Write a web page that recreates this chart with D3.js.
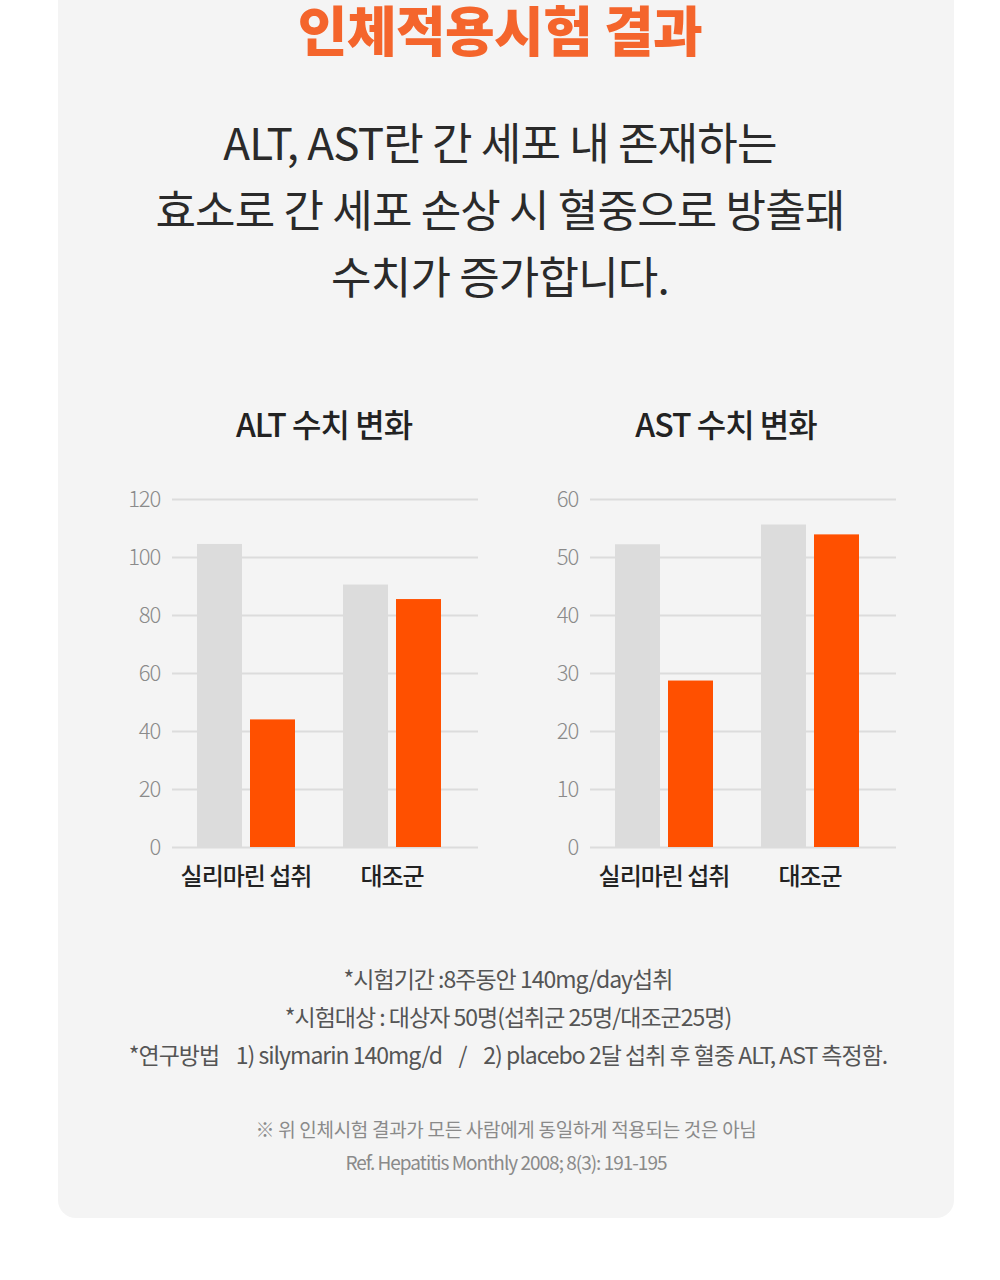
<!DOCTYPE html>
<html><head><meta charset="utf-8">
<script src="https://cdn.jsdelivr.net/npm/d3@7"></script>
<style>
html,body{margin:0;padding:0;background:#fff;}
svg{display:block;}
text{font-family:"Noto Sans CJK KR","Noto Sans",sans-serif;}
</style></head>
<body>
<div id="chart"></div>
<script>
const categories = ["실리마린 섭취", "대조군"];
const series = ["before", "after"];
const altBefore = [104.5, 90.5];
const altAfter = [44, 85.5];
const astBefore = [52.2, 55.6];
const astAfter = [28.7, 53.9];
const altTicks = [0, 20, 40, 60, 80, 100, 120];
const astTicks = [0, 10, 20, 30, 40, 50, 60];
const titleText = "인체적용시험 결과";
const subtitleLines = ["ALT, AST란 간 세포 내 존재하는", "효소로 간 세포 손상 시 혈중으로 방출돼", "수치가 증가합니다."];
const chartTitles = ["ALT 수치 변화", "AST 수치 변화"];
const noteLines = ["*시험기간 :8주동안 140mg/day섭취", "*시험대상 : 대상자 50명(섭취군 25명/대조군25명)", "*연구방법    1) silymarin 140mg/d    /    2) placebo 2달 섭취 후 혈중 ALT, AST 측정함."];
const smallLines = ["※ 위 인체시험 결과가 모든 사람에게 동일하게 적용되는 것은 아님", "Ref. Hepatitis Monthly 2008; 8(3): 191-195"];

const W = 1000, H = 1280;
const svg = d3.select("#chart").append("svg").attr("width", W).attr("height", H);

// panel
svg.append("rect").attr("x", 58).attr("y", -40).attr("width", 896).attr("height", 1258)
  .attr("rx", 18).attr("fill", "#f4f4f4");

// title
svg.append("text").attr("x", 500).attr("y", 52).attr("text-anchor", "middle")
  .attr("font-size", 54).attr("font-weight", 900).attr("fill", "#f4652c")
  .attr("letter-spacing", -0.6).text(titleText);

// subtitle
subtitleLines.forEach((t, i) => {
  svg.append("text").attr("x", 500).attr("y", 160 + i * 67).attr("text-anchor", "middle")
    .attr("font-size", 44).attr("font-weight", 400).attr("fill", "#2a2a2a")
    .attr("letter-spacing", -0.8).text(t);
});

function drawChart(cfg) {
  const g = svg.append("g");
  const y = d3.scaleLinear().domain([0, cfg.max]).range([847, 499]);
  const x0 = d3.scaleBand().domain(categories).range([cfg.left, cfg.left + 294])
    .paddingInner(48 / 146).paddingOuter(25 / 146);
  const x1 = d3.scaleBand().domain(series).range([0, x0.bandwidth()]).paddingInner(8 / 53);

  // title
  g.append("text").attr("x", cfg.titleX).attr("y", 437).attr("text-anchor", "middle")
    .attr("font-size", 32).attr("font-weight", 500).attr("fill", "#222")
    .attr("letter-spacing", -1).text(cfg.title);

  // grid + axis
  const axis = d3.axisLeft(y).tickValues(cfg.ticks).tickSize(-(cfg.gridRight - cfg.left)).tickPadding(12);
  const ag = g.append("g").attr("transform", `translate(${cfg.left},0)`).call(axis);
  ag.select(".domain").remove();
  ag.selectAll(".tick line").attr("stroke", "#dcdcdc").attr("stroke-width", 2);
  ag.selectAll(".tick text").attr("font-size", 22).attr("fill", "#8a8a8a")
    .attr("font-family", "Inter, 'Noto Sans', sans-serif").attr("font-weight", 300).attr("letter-spacing", -1.2);

  const rows = categories.map((c, i) => ({ cat: c, before: cfg.before[i], after: cfg.after[i] }));
  const grp = g.selectAll(".grp").data(rows).join("g")
    .attr("transform", d => `translate(${x0(d.cat)},0)`);
  grp.selectAll("rect").data(d => series.map(s => ({ s, v: d[s] }))).join("rect")
    .attr("x", d => x1(d.s)).attr("width", x1.bandwidth())
    .attr("y", d => y(d.v)).attr("height", d => y(0) - y(d.v))
    .attr("fill", d => d.s === "before" ? "#dcdcdc" : "#ff5000");

  // category labels
  g.selectAll(".cat").data(categories).join("text")
    .attr("x", d => x0(d) + x0.bandwidth() / 2).attr("y", 885).attr("text-anchor", "middle")
    .attr("font-size", 24).attr("font-weight", 500).attr("fill", "#222").attr("letter-spacing", -1)
    .text(d => d);
}

drawChart({ left: 172, gridRight: 478, max: 120, ticks: altTicks, before: altBefore, after: altAfter, title: chartTitles[0], titleX: 324 });
drawChart({ left: 590, gridRight: 896, max: 60, ticks: astTicks, before: astBefore, after: astAfter, title: chartTitles[1], titleX: 726 });

// notes
noteLines.forEach((t, i) => {
  svg.append("text").attr("x", 508).attr("y", 988 + i * 38).attr("text-anchor", "middle")
    .attr("font-size", 23).attr("font-weight", 400).attr("fill", "#555")
    .attr("letter-spacing", -1).attr("xml:space", "preserve").style("white-space", "pre").text(t);
});
smallLines.forEach((t, i) => {
  svg.append("text").attr("x", 506).attr("y", 1137 + i * 33).attr("text-anchor", "middle")
    .attr("font-size", 19).attr("font-weight", 400).attr("fill", "#8a8a8a")
    .attr("letter-spacing", i === 0 ? -0.3 : -1).text(t);
});
</script>
</body></html>
